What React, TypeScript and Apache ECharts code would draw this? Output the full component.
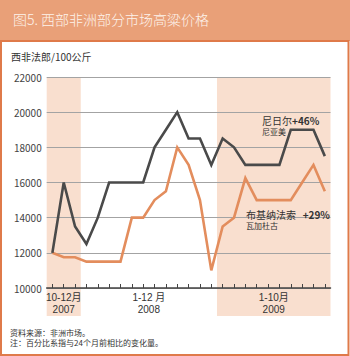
import React, { useEffect, useRef } from 'react';
import * as echarts from 'echarts';

const months = [
  '2007-10', '2007-11', '2007-12',
  '2008-01', '2008-02', '2008-03', '2008-04', '2008-05', '2008-06',
  '2008-07', '2008-08', '2008-09', '2008-10', '2008-11', '2008-12',
  '2009-01', '2009-02', '2009-03', '2009-04', '2009-05', '2009-06',
  '2009-07', '2009-08', '2009-09', '2009-10',
];

const nigerNiamey = [
  12000, 16000, 13500, 12500, 14000, 16000, 16000, 16000, 16000, 18000, 19000, 20000,
  18500, 18500, 17000, 18500, 18000, 17000, 17000, 17000, 17000, 19000, 19000, 19000, 17500,
];

const burkinaOuaga = [
  12000, 11750, 11750, 11500, 11500, 11500, 11500, 14000, 14000, 15000, 15500, 18000,
  17000, 15000, 11000, 13500, 14000, 16250, 15000, 15000, 15000, 15000, 16000, 17000, 15500,
];

const yMin = 10000;
const yMax = 22000;
const yStep = 2000;

const periodFrom = [0, 3, 15];
const periodTo = [2, 14, 24];
const periodMonths = ['10-12月', '1-12 月', '1-10月'];
const periodYears = ['2007', '2008', '2009'];
const periodShaded = [true, false, true];

const title = '图5. 西部非洲部分市场高粱价格';
const unitLabel = '西非法郎/100公斤';
const sourceNote = '资料来源：非洲市场。';
const footNote = '注：百分比系指与24个月前相比的变化量。';

const FONT = '"Noto Sans CJK SC", "Noto Sans", sans-serif';
const LFONT = '"Liberation Sans", "Noto Sans CJK SC", sans-serif';
const HEADER = '#e9a078';
const BORDER = '#df7a4a';
const BAND = '#f9dfcf';
const DARK = '#4a4a4a';
const ORANGE = '#e38d5d';

export default function App() {
  const ref = useRef<HTMLDivElement>(null);

  useEffect(() => {
    if (!ref.current) return;
    const chart = echarts.init(ref.current, null, { renderer: 'svg' });

    const rich = {
      a: { fontSize: 10, fontFamily: FONT, fill: '#333', lineHeight: 11 },
      b: { fontSize: 10, fontFamily: FONT, fontWeight: 'bold', fill: '#333', lineHeight: 11 },
    };

    const staticGraphics: any[] = [
      { type: 'rect', z: -20, shape: { x: 0, y: 0, width: 350, height: 41 }, style: { fill: HEADER } },
      {
        type: 'rect', z: -19,
        shape: { x: 1, y: 41, width: 347.5, height: 314 },
        style: { fill: 'none', stroke: BORDER, lineWidth: 2 },
      },
      {
        type: 'text', z: 20, left: 13, top: 12,
        style: { text: title, fill: '#fdf3ec', font: `300 14px ${FONT}` },
      },
      {
        type: 'text', z: 20, left: 11, top: 51,
        style: { text: unitLabel, fill: '#333', font: `10px ${FONT}` },
      },
      {
        type: 'text', z: 20, left: 10, top: 328,
        style: { text: sourceNote, fill: '#333', font: `8px ${FONT}`, lineHeight: 9 },
      },
      {
        type: 'text', z: 20, left: 10, top: 338,
        style: { text: footNote, fill: '#333', font: `8px ${FONT}`, lineHeight: 9 },
      },
      {
        type: 'text', z: 20, left: 262, top: 115,
        style: { text: '{a|尼日尔}{b|+46%}', rich },
      },
      {
        type: 'text', z: 20, left: 262, top: 127,
        style: { text: '尼亚美', fill: '#333', font: `8px ${FONT}`, lineHeight: 9 },
      },
      {
        type: 'text', z: 20, left: 246, top: 208,
        style: { text: '{a|布基纳法索}  {b|+29%}', rich },
      },
      {
        type: 'text', z: 20, left: 246, top: 221,
        style: { text: '瓦加杜古', fill: '#333', font: `8px ${FONT}`, lineHeight: 9 },
      },
    ];

    chart.setOption({
      animation: false,
      backgroundColor: '#ffffff',
      grid: { left: 46.7, right: 19.5, top: 77, bottom: 68, containLabel: false },
      xAxis: {
        type: 'category',
        data: months,
        boundaryGap: true,
        z: 5,
        axisLine: { show: true, lineStyle: { color: '#444', width: 1.5 } },
        axisTick: { show: true, inside: true, length: 4, alignWithLabel: true, interval: 0, lineStyle: { color: '#444', width: 1 } },
        axisLabel: { show: false },
        splitLine: { show: false },
      },
      yAxis: {
        type: 'value',
        min: yMin,
        max: yMax,
        interval: yStep,
        z: 5,
        axisLine: { show: false },
        axisTick: { show: false },
        axisLabel: {
          color: '#444', fontSize: 10, fontFamily: FONT, margin: 5,
          formatter: (v: number) => String(v),
        },
        splitLine: { show: true, lineStyle: { color: '#a3a3a3', width: 1 } },
      },
      series: [
        {
          name: '尼日尔 尼亚美',
          type: 'line',
          data: nigerNiamey,
          z: 10,
          symbol: 'none',
          lineStyle: { color: DARK, width: 2.6, join: 'miter' },
        },
        {
          name: '布基纳法索 瓦加杜古',
          type: 'line',
          data: burkinaOuaga,
          z: 9,
          symbol: 'none',
          lineStyle: { color: ORANGE, width: 2.6, join: 'miter' },
        },
      ],
      graphic: staticGraphics,
    });

    const px = (i: number) => chart.convertToPixel({ xAxisIndex: 0 }, months[i]) as number;
    const half = (px(1) - px(0)) / 2;
    const yTop = chart.convertToPixel({ yAxisIndex: 0 }, yMax) as number;
    const yBase = chart.convertToPixel({ yAxisIndex: 0 }, yMin) as number;

    const dyn: any[] = [];
    periodFrom.forEach((from, k) => {
      const left = px(from) - half;
      const right = px(periodTo[k]) + half;
      if (periodShaded[k]) {
        dyn.push({
          type: 'rect', z: -5,
          shape: { x: left, y: yTop, width: right - left, height: yBase - yTop + 28 },
          style: { fill: BAND },
        });
      }
      dyn.push({
        type: 'text', z: 20,
        x: (left + right) / 2, y: yBase + 9.5,
        style: {
          text: periodMonths[k], fill: '#333', font: `10px ${LFONT}`,
          align: 'center', verticalAlign: 'middle', lineHeight: 10,
        },
      });
      dyn.push({
        type: 'text', z: 20,
        x: (left + right) / 2, y: yBase + 21,
        style: {
          text: periodYears[k], fill: '#333', font: `10px ${LFONT}`,
          align: 'center', verticalAlign: 'middle', lineHeight: 10,
        },
      });
    });

    chart.setOption({ graphic: [...staticGraphics, ...dyn] }, { replaceMerge: ['graphic'] });

    return () => chart.dispose();
  }, []);

  return (
    <div
      ref={ref}
      style={{ position: 'fixed', left: 0, top: 0, width: 350, height: 356 }}
    />
  );
}
